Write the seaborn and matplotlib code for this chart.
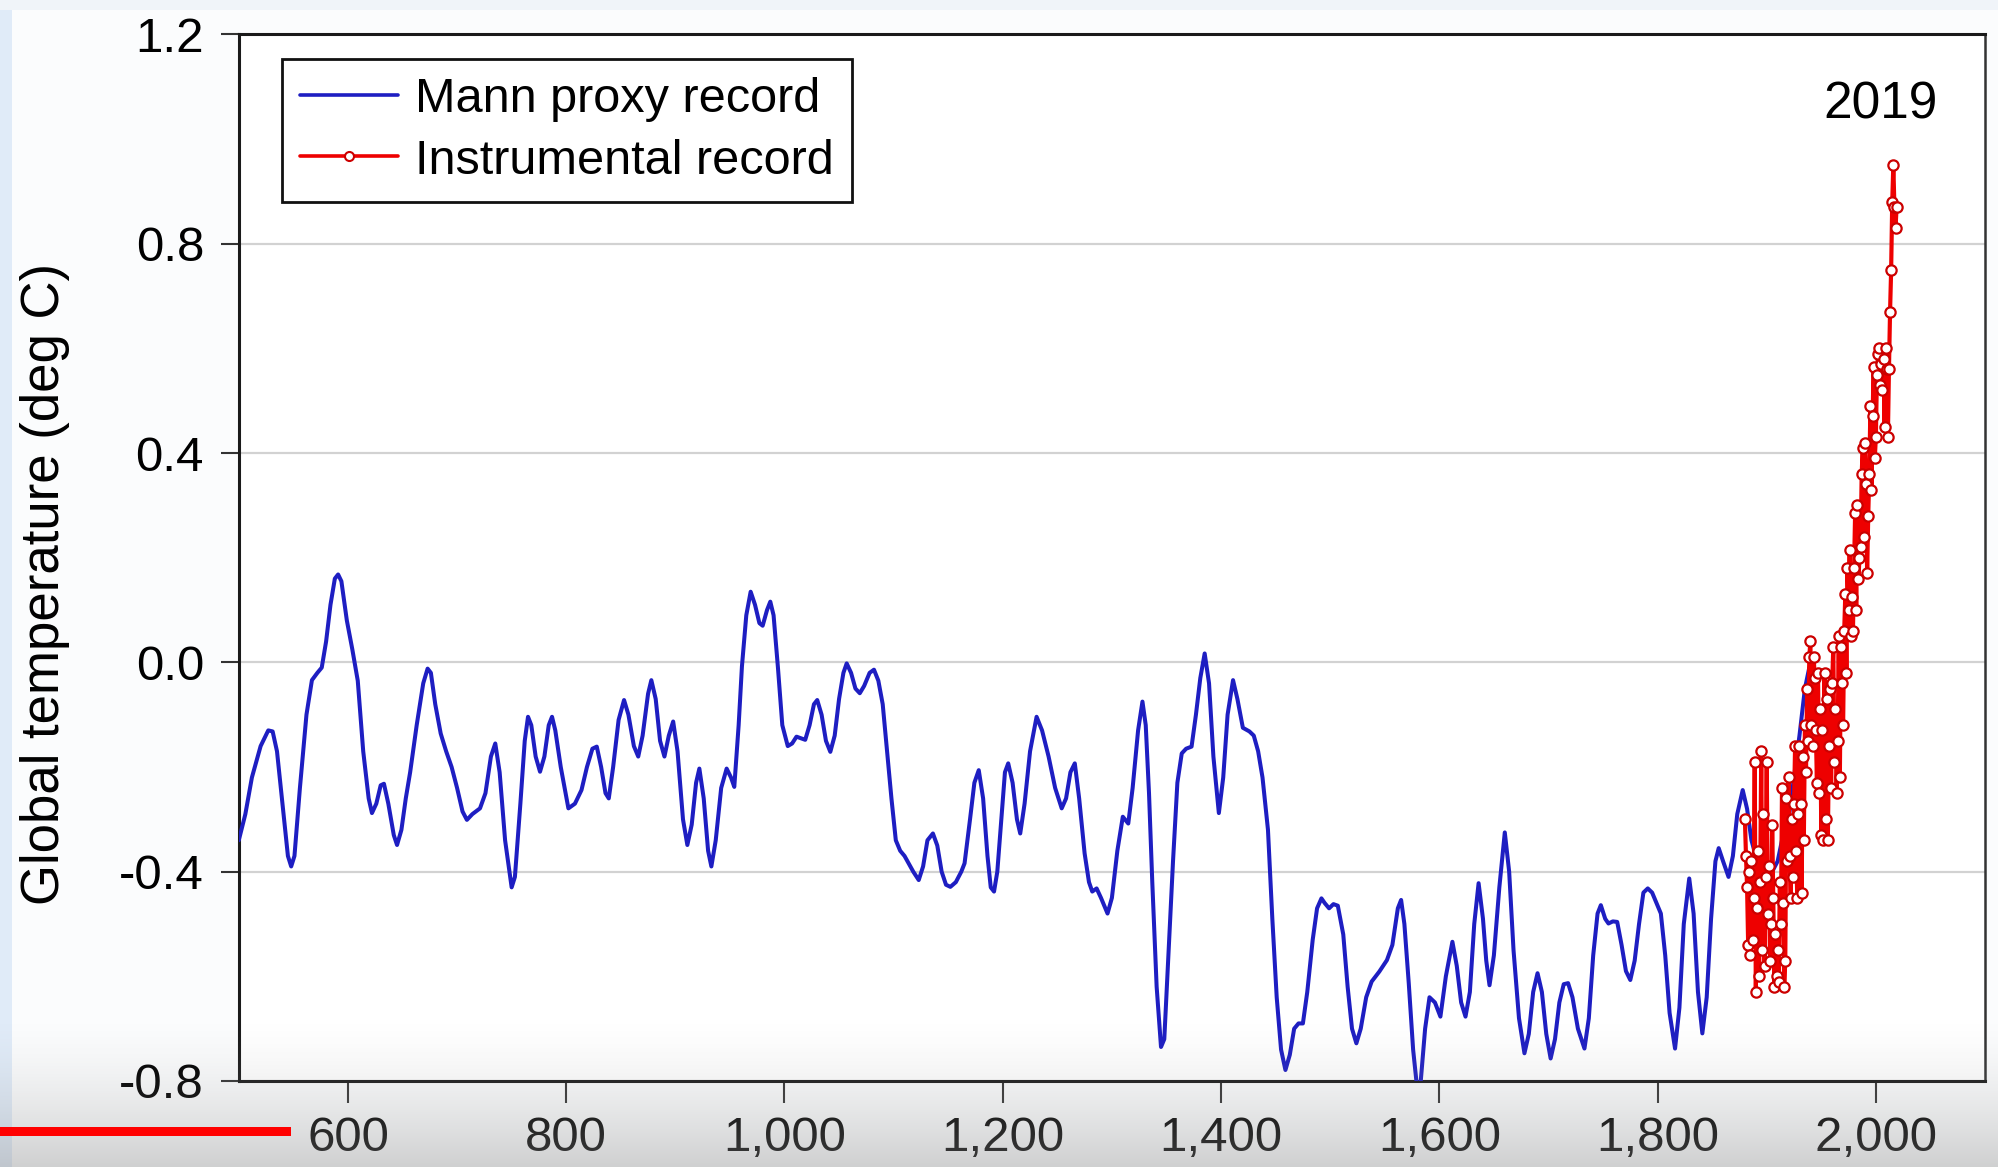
import numpy as np
import pandas as pd
import matplotlib
matplotlib.use("Agg")
import matplotlib.pyplot as plt
import seaborn as sns
from matplotlib.lines import Line2D
from matplotlib.patches import Rectangle

# ---------------- data ----------------
proxy_years = [
    500, 506, 512, 520, 527, 531, 535, 540, 545, 548, 551, 556, 562, 567, 572, 576, 580, 584, 588, 591,
    594, 599, 604, 609, 614, 619, 622, 626, 630, 633, 637, 642, 645, 649, 653, 657, 663, 669, 673, 676,
    680, 685, 690, 695, 700, 705, 709, 714, 721, 726, 731, 735, 739, 744, 750, 753, 758, 762, 765, 768,
    772, 776, 780, 784, 787, 790, 795, 802, 808, 814, 819, 824, 828, 832, 836, 839, 843, 848, 853, 857,
    862, 866, 870, 875, 878, 882, 886, 890, 894, 898, 902, 907, 911, 915, 919, 922, 926, 930, 933, 937,
    942, 947, 951, 954, 958, 961, 965, 969, 973, 977, 980, 984, 987, 990, 994, 998, 1003, 1007, 1011, 1015,
    1019, 1023, 1027, 1030, 1034, 1038, 1042, 1046, 1050, 1054, 1057, 1061, 1065, 1069, 1073, 1078, 1082, 1086, 1090, 1094,
    1098, 1102, 1106, 1110, 1114, 1118, 1123, 1127, 1131, 1136, 1140, 1144, 1148, 1152, 1157, 1162, 1165, 1170, 1174, 1178,
    1182, 1186, 1189, 1192, 1195, 1199, 1202, 1205, 1209, 1213, 1216, 1220, 1225, 1231, 1236, 1242, 1248, 1254, 1258, 1262,
    1266, 1270, 1275, 1279, 1282, 1286, 1290, 1296, 1300, 1305, 1310, 1315, 1319, 1324, 1328, 1331, 1334, 1337, 1341, 1345,
    1348, 1352, 1356, 1360, 1364, 1368, 1373, 1377, 1381, 1385, 1389, 1393, 1398, 1402, 1406, 1411, 1415, 1420, 1426, 1430,
    1434, 1438, 1443, 1447, 1451, 1455, 1459, 1463, 1467, 1471, 1475, 1479, 1484, 1488, 1492, 1495, 1499, 1503, 1507, 1512,
    1516, 1520, 1524, 1528, 1533, 1538, 1545, 1552, 1557, 1562, 1565, 1568, 1572, 1576, 1580, 1583, 1587, 1591, 1596, 1601,
    1606, 1612, 1616, 1620, 1624, 1628, 1632, 1636, 1640, 1643, 1646, 1650, 1655, 1660, 1664, 1668, 1673, 1678, 1682, 1686,
    1690, 1694, 1698, 1702, 1706, 1710, 1714, 1718, 1722, 1727, 1733, 1737, 1741, 1745, 1748, 1752, 1755, 1759, 1763, 1767,
    1771, 1775, 1779, 1783, 1787, 1791, 1795, 1799, 1803, 1807, 1811, 1816, 1820, 1824, 1829, 1833, 1837, 1841, 1845, 1849,
    1853, 1856, 1860, 1865, 1869, 1873, 1878, 1882, 1886, 1890, 1895, 1900, 1905, 1910, 1915, 1920, 1925, 1930, 1935, 1939,
    1943, 1947, 1950,
]
proxy_temps = [
    -0.34, -0.29, -0.22, -0.16, -0.13, -0.132, -0.17, -0.27, -0.37, -0.39, -0.37, -0.24, -0.10, -0.034, -0.02, -0.01, 0.04, 0.11, 0.16, 0.168,
    0.155, 0.08, 0.025, -0.035, -0.17, -0.26, -0.288, -0.27, -0.235, -0.232, -0.27, -0.33, -0.349, -0.32, -0.26, -0.21, -0.12, -0.04, -0.012, -0.02,
    -0.08, -0.136, -0.17, -0.20, -0.24, -0.285, -0.301, -0.29, -0.279, -0.25, -0.18, -0.155, -0.21, -0.34, -0.43, -0.41, -0.27, -0.15, -0.104, -0.12,
    -0.18, -0.209, -0.18, -0.12, -0.104, -0.13, -0.20, -0.279, -0.27, -0.244, -0.20, -0.165, -0.161, -0.20, -0.25, -0.26, -0.20, -0.11, -0.072, -0.10,
    -0.16, -0.18, -0.14, -0.06, -0.034, -0.07, -0.15, -0.18, -0.14, -0.113, -0.17, -0.30, -0.349, -0.31, -0.23, -0.203, -0.26, -0.36, -0.39, -0.34,
    -0.24, -0.203, -0.22, -0.238, -0.12, -0.008, 0.09, 0.135, 0.11, 0.075, 0.07, 0.10, 0.116, 0.09, -0.01, -0.12, -0.16, -0.155, -0.142, -0.145,
    -0.148, -0.12, -0.08, -0.072, -0.10, -0.15, -0.171, -0.14, -0.07, -0.02, -0.002, -0.02, -0.05, -0.059, -0.045, -0.02, -0.014, -0.035, -0.08, -0.17,
    -0.26, -0.34, -0.36, -0.37, -0.385, -0.40, -0.416, -0.39, -0.34, -0.327, -0.35, -0.40, -0.425, -0.429, -0.42, -0.40, -0.384, -0.30, -0.23, -0.206,
    -0.26, -0.37, -0.43, -0.438, -0.40, -0.29, -0.21, -0.193, -0.23, -0.30, -0.327, -0.27, -0.17, -0.104, -0.13, -0.18, -0.24, -0.279, -0.26, -0.21,
    -0.193, -0.26, -0.365, -0.42, -0.438, -0.432, -0.45, -0.48, -0.45, -0.36, -0.295, -0.308, -0.24, -0.13, -0.075, -0.12, -0.25, -0.42, -0.62, -0.735,
    -0.72, -0.55, -0.38, -0.23, -0.174, -0.165, -0.161, -0.10, -0.03, 0.017, -0.04, -0.18, -0.288, -0.22, -0.10, -0.034, -0.07, -0.125, -0.132, -0.14,
    -0.17, -0.22, -0.32, -0.49, -0.64, -0.74, -0.779, -0.75, -0.70, -0.69, -0.69, -0.63, -0.53, -0.47, -0.451, -0.46, -0.47, -0.462, -0.465, -0.52,
    -0.62, -0.70, -0.728, -0.70, -0.64, -0.61, -0.591, -0.569, -0.54, -0.47, -0.454, -0.50, -0.613, -0.74, -0.82, -0.80, -0.70, -0.64, -0.65, -0.677,
    -0.60, -0.534, -0.58, -0.65, -0.677, -0.63, -0.50, -0.422, -0.49, -0.57, -0.617, -0.56, -0.43, -0.325, -0.40, -0.55, -0.68, -0.747, -0.71, -0.63,
    -0.594, -0.63, -0.71, -0.757, -0.72, -0.65, -0.615, -0.613, -0.64, -0.70, -0.738, -0.68, -0.56, -0.48, -0.464, -0.49, -0.499, -0.495, -0.496, -0.54,
    -0.59, -0.607, -0.57, -0.50, -0.44, -0.432, -0.44, -0.46, -0.48, -0.56, -0.67, -0.738, -0.66, -0.50, -0.413, -0.48, -0.63, -0.709, -0.64, -0.49,
    -0.38, -0.355, -0.38, -0.41, -0.37, -0.29, -0.244, -0.28, -0.34, -0.37, -0.40, -0.38, -0.40, -0.38, -0.33, -0.30, -0.22, -0.14, -0.05, -0.01,
    -0.07, -0.13, -0.12,
]

inst_years = list(range(1880, 2020))
inst_temps = [
    -0.30, -0.37, -0.43, -0.54, -0.40, -0.56, -0.38, -0.53, -0.45, -0.19,
    -0.63, -0.47, -0.36, -0.60, -0.42, -0.17, -0.55, -0.29, -0.58, -0.41,
    -0.19, -0.48, -0.39, -0.57, -0.50, -0.31, -0.45, -0.62, -0.52, -0.60,
    -0.55, -0.61, -0.42, -0.50, -0.24, -0.46, -0.62, -0.57, -0.26, -0.38,
    -0.22, -0.37, -0.45, -0.30, -0.41, -0.27, -0.16, -0.36, -0.45, -0.29,
    -0.16, -0.27, -0.44, -0.18, -0.34, -0.12, -0.21, -0.05, -0.15, 0.01,
    0.04, -0.12, -0.16, 0.01, -0.03, -0.13, -0.23, -0.02, -0.25, -0.09,
    -0.33, -0.13, -0.34, -0.02, -0.30, -0.07, -0.34, -0.16, -0.05, -0.24,
    -0.04, 0.03, -0.19, -0.09, -0.25, -0.15, 0.05, -0.22, 0.03, -0.04,
    -0.12, 0.06, 0.13, -0.02, 0.18, 0.10, 0.215, 0.05, 0.125, 0.06,
    0.18, 0.285, 0.10, 0.30, 0.16, 0.20, 0.22, 0.36, 0.41, 0.24,
    0.42, 0.34, 0.17, 0.28, 0.36, 0.49, 0.33, 0.47, 0.565, 0.39,
    0.43, 0.55, 0.59, 0.60, 0.53, 0.57, 0.52, 0.58, 0.45, 0.60,
    0.56, 0.43, 0.56, 0.67, 0.75, 0.88, 0.95, 0.87, 0.83, 0.87,
]

series_labels = ["Mann proxy record", "Instrumental record"]
x_ticks = [600, 800, 1000, 1200, 1400, 1600, 1800, 2000]
x_tick_labels = ["600", "800", "1,000", "1,200", "1,400", "1,600", "1,800", "2,000"]
y_ticks = [-0.8, -0.4, 0.0, 0.4, 0.8, 1.2]
y_tick_labels = ["-0.8", "-0.4", "0.0", "0.4", "0.8", "1.2"]
y_label = "Global temperature (deg C)"
annotation = "2019"

# ---------------- styling ----------------
sns.set_theme(style="white")
plt.rcParams["font.family"] = ["Liberation Sans", "DejaVu Sans"]

BLUE = "#1e1ec2"
RED = "#ee0000"
RED_EDGE = "#cc0000"

W, H = 1999, 1167
fig = plt.figure(figsize=(W / 100, H / 100), dpi=100, facecolor="#fbfcfd")

# screenshot frame tints
fig.add_artist(Rectangle((0, 0), 12 / W, 1, transform=fig.transFigure,
                         color="#e0ebf8", zorder=-5, lw=0))
fig.add_artist(Rectangle((0, 1 - 10 / H), 1, 10 / H, transform=fig.transFigure,
                         color="#f0f4f9", zorder=-5, lw=0))

ax = fig.add_axes([238.8 / W, (H - 1081) / H, (1985 - 238.8) / W, (1081 - 34.4) / H])
ax.set_facecolor("white")

proxy_df = pd.DataFrame({"Year": proxy_years, "Temp": proxy_temps})
inst_df = pd.DataFrame({"Year": inst_years, "Temp": inst_temps})

sns.lineplot(data=proxy_df, x="Year", y="Temp", ax=ax, color=BLUE, linewidth=2.9,
             estimator=None, sort=False, zorder=3)
sns.lineplot(data=inst_df, x="Year", y="Temp", ax=ax, color=RED, linewidth=3.0,
             marker="o", markersize=7.4, markerfacecolor="white",
             markeredgecolor=RED_EDGE, markeredgewidth=1.6,
             estimator=None, sort=False, zorder=4)

ax.set_xlim(500, 2100)
ax.set_ylim(-0.8, 1.2)
ax.set_xticks(x_ticks, x_tick_labels)
ax.set_yticks(y_ticks, y_tick_labels)
ax.set_xlabel("")
ax.set_ylabel("")

ax.tick_params(axis="x", direction="out", length=16, width=1.5, pad=9,
               labelsize=35.5, color="#333333", labelcolor="black", bottom=True)
ax.tick_params(axis="y", direction="out", length=13, width=1.5, pad=12,
               labelsize=35.5, color="#333333", labelcolor="black", left=True)

ax.yaxis.grid(True, color="#d2d2d2", linewidth=1.6)
ax.xaxis.grid(False)
ax.set_axisbelow(True)
for side, sp in ax.spines.items():
    sp.set_visible(True)
    sp.set_color("#1a1a1a")
    sp.set_linewidth(2.2)
ax.spines["right"].set_color("#333333")
ax.spines["right"].set_linewidth(1.8)

fig.text(45 / W, 1 - 584 / H, y_label, rotation=90, ha="center", va="center",
         fontsize=38, color="black")

ax.text(2004.4, 1.065, annotation, ha="center", va="center", fontsize=37, color="black")

handles = [
    Line2D([], [], color=BLUE, linewidth=2.6),
    Line2D([], [], color=RED, linewidth=2.6, marker="o", markersize=6.5,
           markerfacecolor="white", markeredgecolor=RED_EDGE, markeredgewidth=1.5),
]
leg = ax.legend(handles, series_labels, loc="upper left",
                bbox_to_anchor=((282 - 238.8) / 1746.2, (1081 - 59) / 1046.6),
                fontsize=35, frameon=True, fancybox=False, shadow=False,
                edgecolor="#111111", framealpha=1, handlelength=2.0,
                handletextpad=0.35, borderpad=0.38, labelspacing=0.33,
                borderaxespad=0)
leg.get_frame().set_linewidth(2.0)
for t in leg.get_texts():
    t.set_color("black")

# bottom video-overlay gradient (darker toward the bottom)
ov = fig.add_axes([0, 0, 1, 150 / H], zorder=10)
ov.set_axis_off()
ov.patch.set_visible(False)
n = 120
alpha = (np.linspace(0.0, 1.0, n) ** 1.5) * 0.42
img = np.zeros((n, 1, 4))
img[..., 0:3] = 0.58
img[..., 0, 3] = alpha
ov.imshow(img, aspect="auto", extent=[0, 1, 0, 1], origin="upper", interpolation="bilinear")
ov.set_xlim(0, 1)
ov.set_ylim(0, 1)

fig.add_artist(Rectangle((0, (H - 1136) / H), 291 / W, 9 / H, transform=fig.transFigure,
                         color="#ff0000", zorder=20, lw=0))

fig.savefig("out.png", dpi=100, facecolor=fig.get_facecolor())
